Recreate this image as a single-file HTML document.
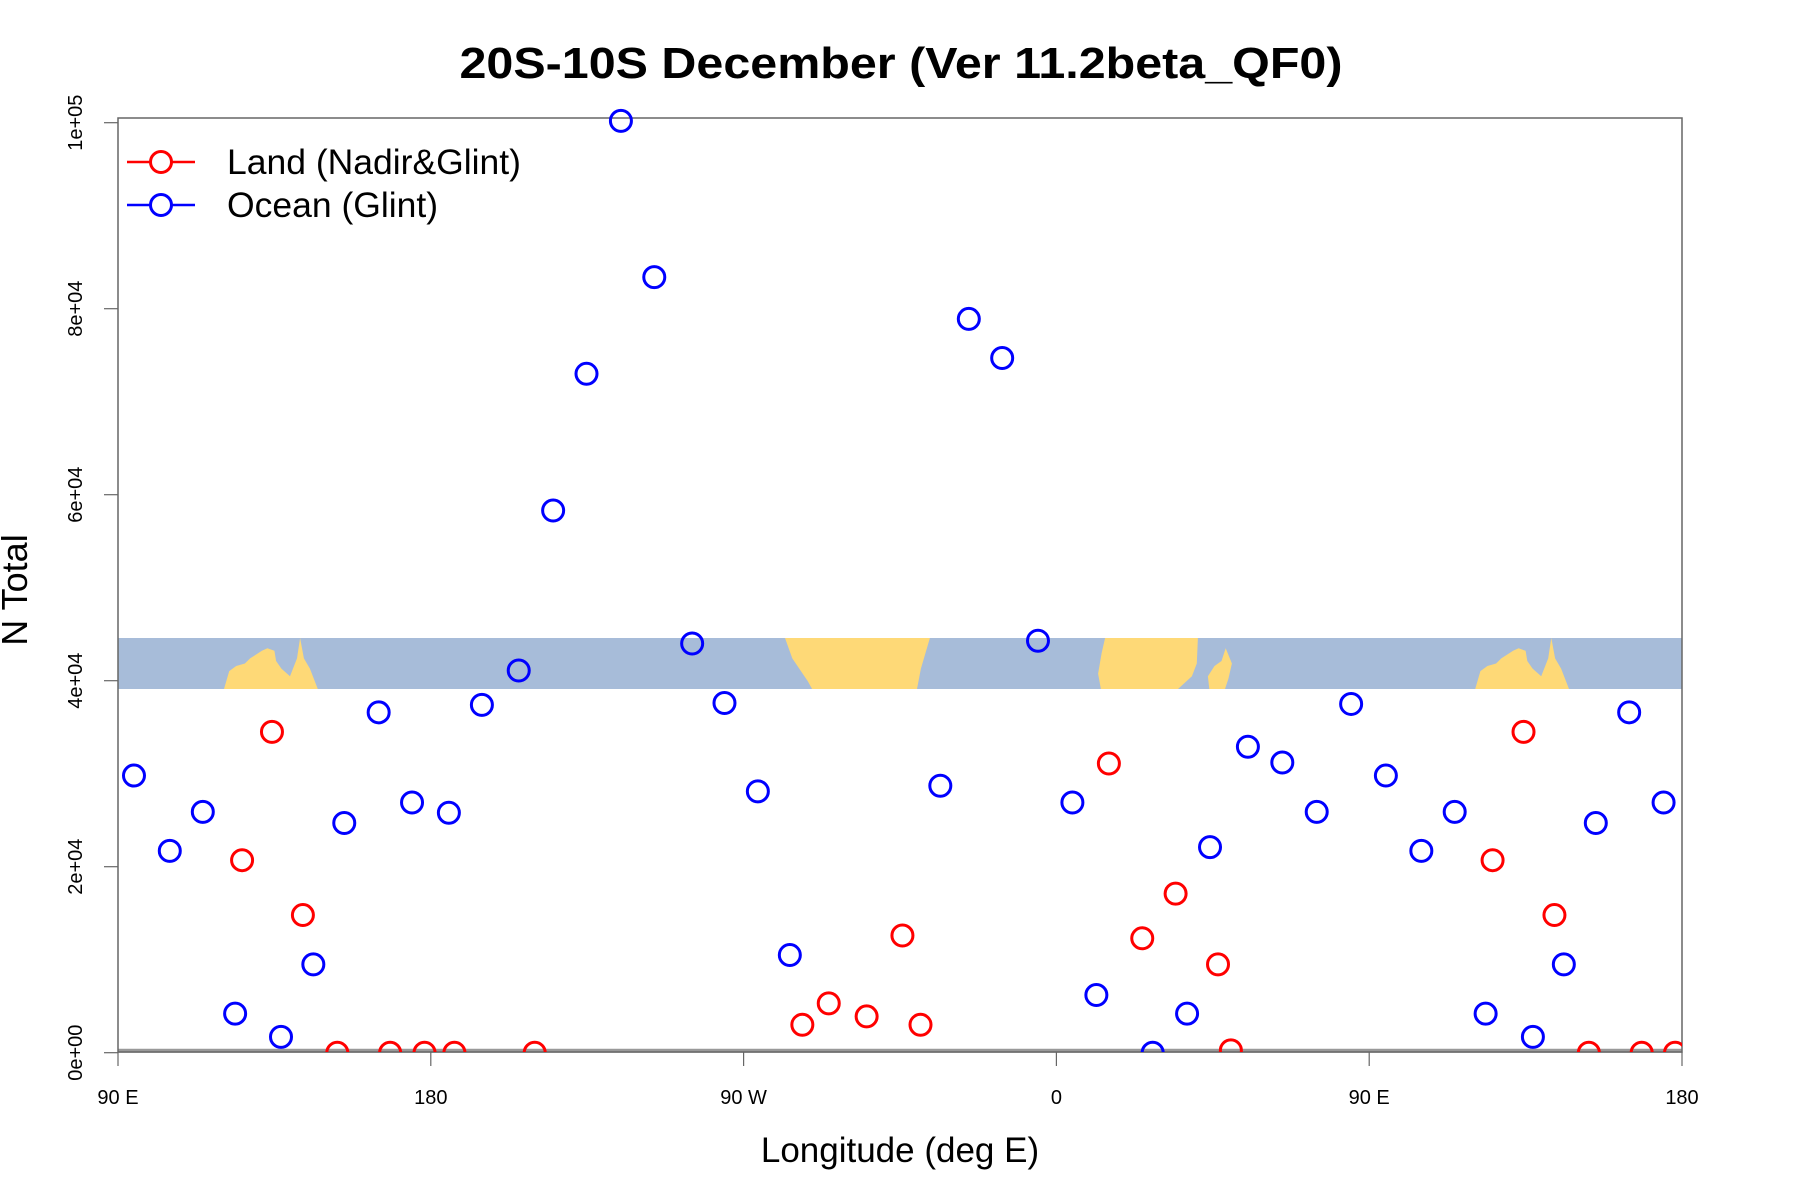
<!DOCTYPE html>
<html><head><meta charset="utf-8"><style>
html,body{margin:0;padding:0;background:#fff;}
svg{display:block;font-family:"Liberation Sans",Arial,sans-serif;}
</style></head><body>
<svg id="chart" width="1800" height="1200" viewBox="0 0 1800 1200">
<text x="901" y="78" text-anchor="middle" font-size="44" font-weight="bold" textLength="883" lengthAdjust="spacingAndGlyphs">20S-10S December (Ver 11.2beta_QF0)</text>
<g id="band"></g>
<g id="axes"></g>
<g id="marks"></g>
<text x="900" y="1162" text-anchor="middle" font-size="35">Longitude (deg E)</text>
<text transform="translate(27,590) rotate(-90)" text-anchor="middle" font-size="36">N Total</text>
<g>
<g>
<line x1="127" y1="162" x2="195" y2="162" stroke="#ff0000" stroke-width="2.5"/>
<circle cx="161" cy="162" r="10.5" fill="#fff" stroke="#ff0000" stroke-width="3"/>
<text x="227" y="174" font-size="35.5">Land (Nadir&amp;Glint)</text>
</g>
<g>
<line x1="127" y1="205" x2="195" y2="205" stroke="#0000ff" stroke-width="2.5"/>
<circle cx="161" cy="205" r="10.5" fill="#fff" stroke="#0000ff" stroke-width="3"/>
<text x="227" y="217" font-size="35.5">Ocean (Glint)</text>
</g>
</g>
</svg>
<script>
// unwrapped longitude (deg E, 90..540) and N total
const oceanLon = [94.6,104.9,114.4,123.7,136.9,146.2,155.1,165,174.6,185.2,194.7,205.3,215.2,224.8,234.7,244.3,255.2,264.5,274.1,283.3,326.6,334.8,344.4,354.7,364.6,371.5,387.7,397.6,404.2,415.1,425,434.9,444.8,454.8,465,474.6,483.5,497.1,506,515.2,524.8,534.7];
const oceanVal = [29800,21700,25900,4200,1700,9500,24700,36600,26900,25800,37400,41100,58300,73000,100200,83400,44000,37600,28100,10500,28700,78900,74700,44300,26900,6200,0,4200,22100,32900,31200,25900,37500,29800,21700,25900,4200,1700,9500,24700,36600,26900];
const landLon = [125.7,134.3,143.2,153.1,168.3,178.2,186.8,209.9,286.9,294.5,305.4,315.7,320.9,375.1,384.7,394.3,406.5,410.2,485.5,494.4,503.3,513.2,528.4,538];
const landVal = [20700,34500,14800,0,0,0,0,0,3000,5300,3900,12600,3000,31100,12300,17100,9500,250,20700,34500,14800,0,0,0];
const xTickLon = [90,180,270,360,450,540];
const xTickLabels = ["90 E","180","90 W","0","90 E","180"];
const yTicks = [0,20000,40000,60000,80000,100000];
const yTickLabels = ["0e+00","2e+04","4e+04","6e+04","8e+04","1e+05"];

const L=118,R=1682,T=118,B=1052;
const x = lon => L + (lon-90)*(R-L)/450;
const y = v => 1052.7 - v*(1052.7-122.7)/100000;
const NS='http://www.w3.org/2000/svg';
function mk(tag, attrs, parent){const e=document.createElementNS(NS,tag);for(const k in attrs)e.setAttribute(k,attrs[k]);parent.appendChild(e);return e;}

// map band
const band=document.getElementById('band');
const bt=638, bb=689, bh=bb-bt;
const bg=mk('rect',{x:L,y:bt,width:R-L,height:bh,fill:'#a7bcd9'},band);


const shapes=[
 {name:'australia',pts:[[120.5,1],[122,0.65],[124,0.55],[126.5,0.5],[128,0.4],[131.4,0.25],[133,0.2],[135,0.25],[135.5,0.45],[137,0.6],[139.5,0.75],[141.5,0.4],[142.4,0],[143.5,0.4],[145.2,0.6],[147.5,1]]},
 {name:'south-america',pts:[[281.9,0],[323.6,0],[321,0.6],[319.9,1],[289.7,1],[288.5,0.85],[284,0.4]]},
 {name:'africa',pts:[[374,0],[400.7,0],[400.4,0.5],[399,0.75],[395,1],[372.8,1],[372,0.7],[373,0.3]]},
 {name:'madagascar',pts:[[403.6,0.75],[405.5,0.55],[407.5,0.45],[408.7,0.2],[410.5,0.5],[409.5,0.8],[408.5,1],[404,1]]},
 {name:'australia-2',pts:[[480.5,1],[482,0.65],[484,0.55],[486.5,0.5],[488,0.4],[491.4,0.25],[493,0.2],[495,0.25],[495.5,0.45],[497,0.6],[499.5,0.75],[501.5,0.4],[502.4,0],[503.5,0.4],[505.2,0.6],[507.5,1]]}
];
shapes.forEach(s=>{
 const p=mk('polygon',{points:s.pts.map(q=>x(q[0]).toFixed(1)+','+(bt+q[1]*bh).toFixed(1)).join(' '),fill:'#fed977'},band);
 
 
});

// axes
const ax=document.getElementById('axes');
const zl=mk('line',{x1:L,y1:y(0)-2,x2:R,y2:y(0)-2,stroke:'#999','stroke-width':4},ax);


const box=mk('rect',{x:L,y:T,width:R-L,height:B-T,fill:'none',stroke:'#666','stroke-width':1.5},ax);


xTickLon.forEach((lon,i)=>{
 const t=mk('line',{x1:x(lon),y1:B,x2:x(lon),y2:B+14,stroke:'#666','stroke-width':1.2},ax);
 
 
 const tx=mk('text',{x:x(lon),y:B+52,'text-anchor':'middle','font-size':20},ax);
 
 
 tx.textContent=xTickLabels[i];
});
yTicks.forEach((v,i)=>{
 const t=mk('line',{x1:L-14,y1:y(v),x2:L,y2:y(v),stroke:'#666','stroke-width':1.2},ax);
 
 
 const tx=mk('text',{transform:'translate(82,'+y(v)+') rotate(-90)','text-anchor':'middle','font-size':20},ax);
 
 
 tx.textContent=yTickLabels[i];
});

// marks
const mg=document.getElementById('marks');
const clip=mk('clipPath',{id:'pc'},mg);
mk('rect',{x:L,y:T-12,width:R-L,height:B-T+12},clip);
const inner=mk('g',{'clip-path':'url(#pc)'},mg);
oceanLon.forEach((lon,i)=>{
 const c=mk('circle',{cx:x(lon),cy:y(oceanVal[i]),r:10.5,fill:'none',stroke:'#0000ff','stroke-width':3},inner);
 
 
});
landLon.forEach((lon,i)=>{
 const c=mk('circle',{cx:x(lon),cy:y(landVal[i]),r:10.5,fill:'none',stroke:'#ff0000','stroke-width':3},inner);
 
 
});
</script>
</body></html>
